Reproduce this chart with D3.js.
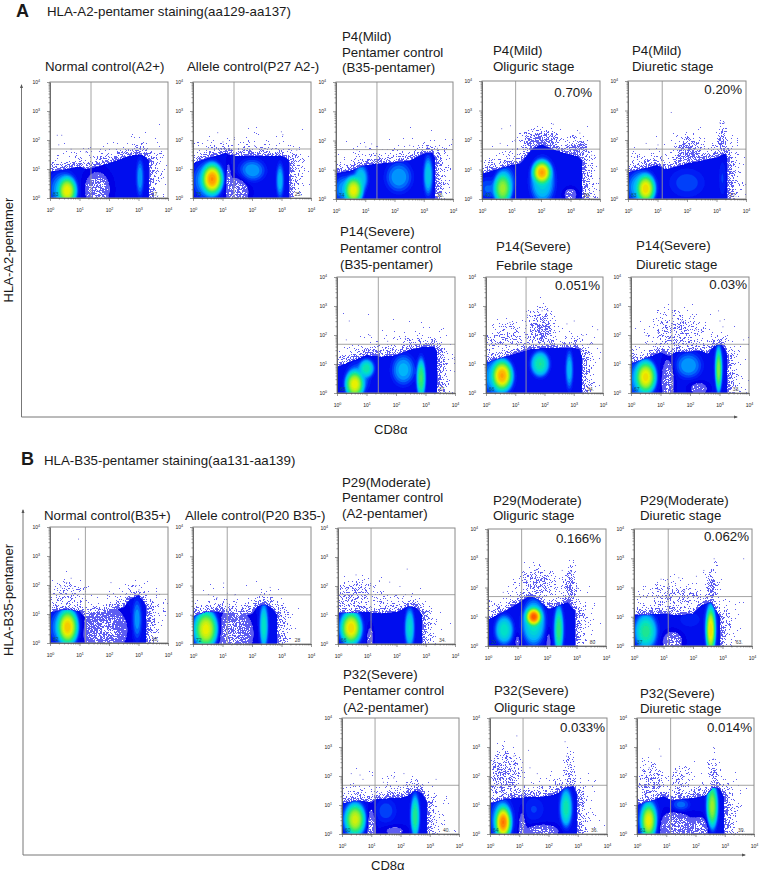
<!DOCTYPE html>
<html>
<head>
<meta charset="utf-8">
<script src="https://cdn.jsdelivr.net/npm/d3@7"></script>
<style>
  body { margin: 0; background: #fff; }
  text { font-family: "Liberation Sans", Arial, sans-serif; fill: #1a1a1a; }
</style>
</head>
<body>
<div id="chart"></div>
<script>

const panelTitles = [
  ['Normal control(A2+)'],
  ['Allele control(P27 A2-)'],
  ['P4(Mild)', 'Pentamer control', '(B35-pentamer)'],
  ['P4(Mild)', 'Oliguric stage'],
  ['P4(Mild)', 'Diuretic stage'],
  ['P14(Severe)', 'Pentamer control', '(B35-pentamer)'],
  ['P14(Severe)', 'Febrile stage'],
  ['P14(Severe)', 'Diuretic stage'],
  ['Normal control(B35+)'],
  ['Allele control(P20 B35-)'],
  ['P29(Moderate)', 'Pentamer control', '(A2-pentamer)'],
  ['P29(Moderate)', 'Oliguric stage'],
  ['P29(Moderate)', 'Diuretic stage'],
  ['P32(Severe)', 'Pentamer control', '(A2-pentamer)'],
  ['P32(Severe)', 'Oliguric stage'],
  ['P32(Severe)', 'Diuretic stage'],
];
const percents = ['', '', '', '0.70%', '0.20%', '', '0.051%', '0.03%', '', '', '', '0.166%', '0.062%', '', '0.033%', '0.014%'];
const lowerLeft = ['83', '75', '74', '40', '83', '63', '66', '67', '82', '72', '66', '20', '37', '60', '64', '61'];
const lowerRight = ['17.', '25.', '26.', '59.', '17.', '37', '34.', '33.', '18.', '28', '34.', '80', '63.', '40.', '36.', '39.'];
const gateX = [1.39, 1.39, 1.40, 1.14, 1.16, 1.40, 1.37, 1.39, 1.20, 1.16, 1.13, 1.14, 1.16, 1.13, 1.13, 1.15];
const gateY = [1.69, 1.69, 1.69, 1.69, 1.69, 1.68, 1.68, 1.68, 1.68, 1.68, 1.70, 1.69, 1.69, 1.68, 1.68, 1.68];

// upper outline of the main population, [x, y]; the last x is where it stops on the right
const edges = [
  [[0, .9], [.6, 1], [1, 1.08], [1.2, 1], [1.4, 1.05], [2, 1.2], [2.7, 1.45], [3, 1.5], [3.2, 1.45], [3.35, 1.3]],
  [[0, 1.2], [.6, 1.4], [1.1, 1.55], [1.25, 1.5], [1.5, 1.45], [2.5, 1.45], [3, 1.45], [3.2, 1.35], [3.27, 1.3]],
  [[0, .87], [.5, .97], [1, 1.15], [1.4, 1.2], [2, 1.25], [2.5, 1.3], [3, 1.55], [3.3, 1.58], [3.38, 1.4]],
  [[0, .85], [1, 1.15], [1.3, 1.2], [1.7, 1.7], [2, 1.85], [2.5, 1.65], [3, 1.5], [3.25, 1.45], [3.4, 1.3]],
  [[0, .9], [1, 1.15], [1.3, 1], [2, 1.2], [3, 1.4], [3.3, 1.55], [3.37, 1.4]],
  [[0, .9], [1, 1.3], [1.5, 1.25], [2, 1.3], [2.5, 1.5], [3, 1.6], [3.3, 1.6], [3.4, 1.4]],
  [[0, 1.05], [.5, 1.2], [1, 1.35], [1.5, 1.5], [2, 1.55], [3, 1.55], [3.2, 1.5], [3.27, 1.3]],
  [[0, 1], [.5, 1.2], [1, 1.4], [1.3, 1.3], [1.5, 1.4], [2.4, 1.45], [2.6, 1.35], [2.8, 1.6], [3.05, 1.7], [3.2, 1.5], [3.27, 1.3]],
  [[0, 1.05], [.5, 1.15], [1, 1.1], [1.2, .9], [2, 1.1], [2.5, 1.25], [2.7, 1.5], [3, 1.65], [3.2, 1.4], [3.27, 1.2]],
  [[0, .95], [.5, 1.1], [1, 1.1], [1.5, .95], [2, 1.05], [2.2, 1.3], [2.5, 1.35], [2.7, 1.2], [2.85, 1]],
  [[0, 1.05], [1, 1.1], [1.5, 1.05], [2, 1.1], [2.4, 1.3], [2.7, 1.25], [2.87, 1]],
  [[0, .9], [.5, 1.15], [1, 1.45], [1.4, 1.7], [1.7, 1.6], [2.05, 1.25], [2.3, 1.35], [2.7, 1.5], [2.95, 1.2]],
  [[0, 1.05], [1, 1.1], [1.5, 1.05], [2, 1.1], [2.3, 1.4], [2.6, 1.5], [2.85, 1.1], [2.92, 1]],
  [[0, 1.05], [.5, 1.15], [1, 1.1], [1.2, 1.2], [2, 1.25], [2.2, 1.3], [2.5, 1.5], [2.75, 1.4], [2.9, 1.1]],
  [[0, 1.05], [.5, 1.2], [1, 1.25], [2, 1.3], [2.3, 1.4], [2.6, 1.6], [2.85, 1.65], [2.97, 1.4]],
  [[0, 1], [.5, 1.15], [.9, 1.3], [1.2, 1.15], [2, 1.25], [2.4, 1.35], [2.6, 1.6], [2.8, 1.6], [2.97, 1.3]],
];

// cell clusters, [x, y, spread x, spread y, density]; density under .1 stays sparse, negative thins out the cover
const clusters = [
  [[.58, .25, .2, .3, .72], [.45, .3, .36, .45, .32], [3.05, .7, .1, .5, .3], [1.6, .3, .28, .4, -.12]],
  [[.65, .65, .22, .33, .85], [.5, .6, .38, .5, .32], [2, .95, .35, .3, .3], [2.95, .6, .1, .45, .33], [1.5, .2, .25, .35, -.12], [1.2, .8, .06, .4, -.06]],
  [[.6, .3, .2, .3, .72], [.85, .7, .18, .35, .36], [.3, .35, .3, .35, .3], [2.15, .75, .35, .4, .3], [3.15, .8, .12, .5, .36]],
  [[2.03, .9, .2, .25, .82], [2.05, .6, .3, .55, .38], [.7, .35, .2, .35, .62], [.8, .6, .25, .4, .3], [.2, .35, .3, .3, .24], [2, 2, .4, .2, .07], [3.2, 1.6, .25, .3, .06], [3, .15, .15, .15, -.09]],
  [[.6, .35, .2, .3, .75], [.45, .4, .36, .42, .34], [2, .55, .5, .4, .22], [3.2, .7, .1, .5, .2], [2.05, 1.5, .3, .35, .06], [3.2, 1.9, .1, .35, .05]],
  [[.6, .3, .2, .3, .72], [1, .85, .18, .22, .45], [.7, .5, .3, .4, .3], [2.25, .8, .3, .4, .32], [2.85, .5, .1, .45, .52], [2.85, .6, .14, .55, .24]],
  [[.55, .6, .22, .33, .82], [.4, .55, .4, .5, .34], [1.85, 1, .22, .3, .46], [2.85, .8, .1, .5, .33], [1.9, 2.2, .25, .4, .05], [.7, 1.9, .5, .3, .015]],
  [[.5, .55, .22, .35, .74], [.35, .5, .35, .5, .32], [1.95, .95, .35, .35, .3], [2.97, .8, .07, .5, .6], [2.97, .9, .12, .6, .3], [1.25, .4, .14, .5, -.12], [2.3, .15, .22, .16, -.08], [1.6, 2.1, .5, .4, .02]],
  [[.6, .55, .22, .38, .78], [.5, .55, .38, .5, .32], [2.95, .8, .13, .55, .3], [1.85, .45, .5, .55, -.13], [.6, 1.6, .4, .3, .015]],
  [[.45, .5, .25, .4, .72], [.4, .5, .35, .5, .32], [2.4, .6, .1, .55, .42], [2.4, .7, .15, .6, .22], [1.4, .35, .42, .55, -.13]],
  [[.45, .55, .22, .35, .75], [.4, .55, .32, .5, .32], [2.45, .55, .12, .5, .4], [.6, 1.7, .5, .3, .02], [1.1, .2, .08, .3, -.08]],
  [[1.55, 1, .17, .2, .92], [1.55, .8, .28, .55, .42], [.55, .55, .22, .35, .42], [2.4, .55, .1, .55, .5], [2.4, .6, .17, .6, .26], [2.8, 2, .12, .4, .04], [1.7, 2.1, .4, .3, .03], [1, .15, .07, .2, -.06], [2.05, .15, .07, .35, -.06]],
  [[.4, .5, .25, .4, .46], [.4, .5, .33, .5, .28], [2.6, .55, .1, .5, .75], [2.6, .65, .16, .65, .33], [1.9, .9, .35, .25, .18], [1.3, .15, .22, .22, -.12], [2.65, 2, .12, .4, .05], [1.3, 1.7, .6, .3, .015]],
  [[.45, .5, .22, .35, .68], [.4, .5, .32, .5, .3], [1.5, .8, .3, .35, .22], [2.5, .6, .1, .5, .48], [2.5, .7, .15, .6, .24], [1, .2, .09, .45, -.12], [1.8, .1, .3, .14, -.06]],
  [[.45, .4, .17, .35, .88], [.4, .5, .3, .55, .32], [1.5, .85, .3, .35, .2], [2.6, .9, .14, .45, .44], [2.6, .9, .2, .6, .24], [1.1, .3, .08, .4, -.08], [1.8, .1, .4, .16, -.1], [.5, 2, .3, .5, .04], [.5, 1.5, .35, .25, .03], [2.7, 2.2, .12, .4, .02]],
  [[.4, .45, .17, .38, .72], [.4, .5, .28, .55, .32], [1.5, 1, .25, .18, .26], [2.57, .95, .12, .5, .62], [2.57, .95, .18, .65, .28], [1.3, .25, .4, .33, -.13], [2.2, .2, .2, .25, -.11], [.5, 1.7, .25, .4, .03], [1.5, 1.8, .2, .35, .015], [2.6, 2, .12, .4, .02]],
];

// single events far away from the clusters
const outliers = [
  [[.23, 2.18], [.38, 2.18], [.28, 1.85], [.7, 1.7], [1.2, 1.6]],
  [[.82, 2.27], [2.98, 2.3], [3.03, 2.2], [3.5, 1.67], [.48, 2], [1.39, 2.1], [2.07, 1.82], [1, 1.95]],
  [[1.2, 1.9], [1, 1.8], [.7, 1.7], [2.5, 1.85], [3.45, 1.75], [3.1, 1.8]],
  [[.65, 2.4], [.95, 2.5], [2.4, 2.55], [.6, 1.9], [1.1, 2], [3.3, 2.25], [3.7, 1.5]],
  [[1.45, 2.95], [.6, 1.9], [1, 1.85], [3.1, 2.6], [3.25, 2.6]],
  [[.4, 2.5], [.3, 1.85], [1.1, 2], [2.3, 1.9], [3.2, 1.8], [1.7, 1.8]],
  [[1.9, 2.85], [2.1, 2.85], [.8, 2.45], [.3, 2], [3, 2.5], [2.75, 2.4], [3.8, 2.2], [3.3, 2], [1.4, 2.7]],
  [[2.95, 2.85], [3, 2.5], [3.15, 2.55], [3.1, 2.3], [1.7, 2.5], [2, 2.65], [.9, 2.1], [.5, 2], [3.8, 1.85], [2.2, 2.2]],
  [[.95, 3.6], [.7, 2.25], [.55, 2.1], [.35, 1.95], [.75, 1.9], [2.05, 2.1], [2.9, 2], [3, 1.85]],
  [[1.02, 2.1], [1.15, 1.75], [1.4, 1.7], [2.6, 1.95], [.8, 1.6]],
  [[2.35, 2.6], [1.4, 2.2], [1.75, 2.15], [.6, 2.4], [.65, 2.1], [.3, 1.9], [2.1, 2]],
  [[1.6, 2.6], [2.8, 2.55], [2.5, 2.6], [3, 2], [1.8, 2.3], [.5, 1.85], [1.3, 2.25]],
  [[3.7, 3], [2.7, 3], [2.35, 2.6], [.9, 2.3], [1.5, 2.35], [.8, 1.95], [2.1, 2.4], [1.7, 1.9]],
  [[.3, 2.1], [.6, 2.05], [.7, 1.9], [1.75, 1.95], [2.1, 2.1], [1.4, 1.8], [3.2, 1.9]],
  [[.9, 3.4], [1.3, 2.9], [2.55, 3.2], [2.6, 2.7], [2.7, 2.4], [2.55, 2.2], [1.35, 2.3], [1.6, 2.1], [.8, 2.7]],
  [[.75, 2.95], [2.6, 3], [2.6, 2.6], [2.7, 2.4], [1.35, 2.2], [1.6, 2], [.4, 2.3], [.8, 2.7]],
];

const tickLabels = ['10', '10', '10', '10', '10'];

// ---- layout, px ----
const width = 760;
const height = 873;

// left, top, right, bottom of each plot
const boxes = [
  [50, 82, 168, 198], [193, 82, 311, 198], [336, 82, 453, 199], [482, 81, 600, 199], [628, 81, 746, 199],
  [337, 277, 455, 393], [486, 277, 603, 393], [631, 277, 749, 393],
  [50, 527, 168, 643], [193, 527, 311, 644], [338, 528, 455, 644], [488, 529, 606, 646], [634, 529, 752, 646],
  [342, 718, 459, 834], [490, 718, 607, 834], [637, 718, 754, 834],
];
// x and baselines of the titles over each plot
const titleSpots = [
  [45, [71]], [187, [71]], [342, [41, 57, 72]], [493, [55, 71]], [632, [55, 71]],
  [340, [236, 253, 269]], [496, [251, 270]], [636, [250, 269]],
  [44, [520]], [185, [520]], [342, [487, 502, 518]], [493, [505, 520]], [640, [505, 520]],
  [343, [679, 695, 712]], [494, [695, 712]], [640, [698, 713]],
];
// right end and baseline of the percentages
const percentSpots = [null, null, null, [592, 97], [742, 94], null, [600, 290], [747, 289], null, null, null, [601, 543], [749, 541], null, [605, 732], [752, 732]];

const svg = d3.select('#chart').append('svg')
  .attr('width', width)
  .attr('height', height)
  .attr('viewBox', `0 0 ${width} ${height}`)
  .style('display', 'block');

svg.append('defs').append('filter').attr('id', 'soft')
  .attr('x', '-5%').attr('y', '-5%').attr('width', '110%').attr('height', '110%')
  .append('feGaussianBlur').attr('stdDeviation', 0.4);

// density colours, blue over cyan and green to red
const SOLID = 0.13;
const densityColor = d3.scaleLinear()
  .domain([SOLID, .2, .3, .4, .5, .6, .7, .8, .9, 1])
  .range(['#0000e6', '#0024f8', '#00b0ff', '#00e0c8', '#30e870', '#90f030', '#e8f000', '#ffb000', '#ff6000', '#e81000'])
  .clamp(true);
const levels = d3.range(SOLID, 1.001, .03);

const COVER = 0.17;
const SPARSE = 0.1;
const FRINGE_EDGE = 0.1;
const FRINGE_WIDTH = 0.11;
const SPREAD = 1.3;
const UNION = 4;

// density of a panel at one spot, built from the outline and the clusters read above
function densityAt(x, y, edge, edgeEnd, list) {
  const top = edge(Math.min(x, edgeEnd));
  const out = x > edgeEnd ? Math.hypot(x - edgeEnd, Math.max(0, y - top)) : y - top;
  const inside = out <= 0;
  const floor = inside ? COVER : FRINGE_EDGE * Math.exp(-out / FRINGE_WIDTH);
  let sum = floor ** UNION;
  let thin = 0;
  list.forEach(([cx, cy, sx, sy, peak]) => {
    if (!inside && Math.abs(peak) >= SPARSE) return;
    const k = peak < SPARSE ? 1 : SPREAD;
    const r2 = ((x - cx) / (sx * k)) ** 2 + ((y - cy) / (sy * k)) ** 2;
    if (peak < 0) thin += -peak * Math.exp(-0.5 * r2);
    else sum += (peak * Math.exp(-0.5 * r2 ** 1.3)) ** UNION;
  });
  return sum ** (1 / UNION) - (inside ? thin : 0);
}

// fixed screen used to break thin density into separate dots, it only decides how a density is drawn
function screenAt(i, j) {
  const s = Math.sin(i * 12.9898 + j * 78.233) * 43758.5453;
  return s - Math.floor(s);
}

function drawPanel(n) {
  const [left, top, right, bottom] = boxes[n];
  const w = right - left;
  const h = bottom - top;
  const x = d3.scaleLinear().domain([0, 4]).range([0, w]);
  const y = d3.scaleLinear().domain([0, 4]).range([h, 0]);
  const g = svg.append('g').attr('transform', `translate(${left},${top})`);

  const edgeData = edges[n];
  const edge = d3.scaleLinear().domain(edgeData.map(d => d[0])).range(edgeData.map(d => d[1])).clamp(true);
  const edgeEnd = edgeData[edgeData.length - 1][0];

  const values = new Float64Array(w * h);
  let dots = '';
  for (let j = 0; j < h; j++) {
    for (let i = 0; i < w; i++) {
      const d = densityAt(x.invert(i + .5), y.invert(j + .5), edge, edgeEnd, clusters[n]);
      values[j * w + i] = d;
      if (d > 0 && d < SOLID && (d / SOLID) ** .65 > screenAt(i + left, j + top)) dots += `M${i},${j}h1v1h-1z`;
    }
  }

  const plot = g.append('g').attr('filter', 'url(#soft)');
  plot.append('path').attr('d', dots).attr('fill', '#3434ee').attr('fill-opacity', .8);

  const bands = d3.contours().size([w, h]).thresholds(levels)(values);
  plot.selectAll('path.band')
    .data(bands)
    .join('path')
    .attr('class', 'band')
    .attr('d', d3.geoPath())
    .attr('fill', d => densityColor(d.value));

  plot.selectAll('rect.event')
    .data(outliers[n])
    .join('rect')
    .attr('class', 'event')
    .attr('x', d => x(d[0]))
    .attr('y', d => y(d[1]))
    .attr('width', 1)
    .attr('height', 1)
    .attr('fill', '#7070e0');

  // quadrant gates and frame
  g.append('line').attr('x1', x(gateX[n])).attr('x2', x(gateX[n])).attr('y1', 0).attr('y2', h)
    .attr('stroke', '#9a9a9a').attr('stroke-width', .9);
  g.append('line').attr('x1', 0).attr('x2', w).attr('y1', y(gateY[n])).attr('y2', y(gateY[n]))
    .attr('stroke', '#9a9a9a').attr('stroke-width', .9);
  g.append('rect').attr('width', w).attr('height', h)
    .attr('fill', 'none').attr('stroke', '#8a8a8a').attr('stroke-width', 1);

  // log axes: ticks for 1..9 in each decade, a label only on the powers of ten
  const logX = d3.scaleLog().domain([1, 1e4]).range([0, w]);
  const logY = d3.scaleLog().domain([1, 1e4]).range([h, 0]);
  const tickValues = [];
  d3.range(0, 4).forEach(k => d3.range(1, 10).forEach(m => tickValues.push(m * 10 ** k)));
  tickValues.push(1e4);
  const isMajor = v => Number.isInteger(Math.log10(v));

  const styleAxis = (a, horizontal) => {
    a.select('.domain').attr('stroke', '#555').attr('stroke-width', .8);
    a.selectAll('.tick line')
      .attr('stroke', '#555')
      .attr('stroke-width', .6)
      .attr(horizontal ? 'y2' : 'x2', d => (horizontal ? 1 : -1) * (isMajor(d) ? 3 : 1.5));
    a.selectAll('.tick text').each(function (d) {
      if (!isMajor(d)) { d3.select(this).remove(); return; }
      const label = d3.select(this)
        .attr('font-size', 5)
        .attr('fill', '#333')
        .style('font-family', '"Liberation Sans", Arial, sans-serif')
        .text(tickLabels[Math.round(Math.log10(d))]);
      label.append('tspan')
        .attr('dy', -2)
        .attr('font-size', 3.6)
        .text(Math.round(Math.log10(d)));
    });
  };

  g.append('g').attr('transform', `translate(0,${h})`)
    .call(d3.axisBottom(logX).tickValues(tickValues).tickSizeOuter(0).tickPadding(4).tickFormat(d => d))
    .call(a => styleAxis(a, true));
  g.append('g')
    .call(d3.axisLeft(logY).tickValues(tickValues).tickSizeOuter(0).tickPadding(4).tickFormat(d => d))
    .call(a => styleAxis(a, false));

  // quadrant percentages
  g.append('text').attr('x', x(.1)).attr('y', h - 2).attr('font-size', 5).style('fill', '#0a5a6a').text(lowerLeft[n]);
  g.append('text').attr('x', x(3.45)).attr('y', h - 2).attr('font-size', 5).style('fill', '#444').text(lowerRight[n]);

  // title lines
  const [tx, baselines] = titleSpots[n];
  panelTitles[n].forEach((line, k) => {
    svg.append('text').attr('x', tx).attr('y', baselines[k]).attr('font-size', 13.3).text(line);
  });

  if (percents[n]) {
    svg.append('text')
      .attr('x', percentSpots[n][0])
      .attr('y', percentSpots[n][1])
      .attr('text-anchor', 'end')
      .attr('font-size', 13.3)
      .text(percents[n]);
  }
}

d3.range(panelTitles.length).forEach(drawPanel);

// section letters, headings, long arrows
const headings = [
  { letter: 'A', lx: 16, ly: 17, text: 'HLA-A2-pentamer staining(aa129-aa137)', tx: 47, ty: 16 },
  { letter: 'B', lx: 21, ly: 465, text: 'HLA-B35-pentamer staining(aa131-aa139)', tx: 44, ty: 465 },
];
headings.forEach(d => {
  svg.append('text').attr('x', d.lx).attr('y', d.ly).attr('font-size', 18).attr('font-weight', 'bold').text(d.letter);
  svg.append('text').attr('x', d.tx).attr('y', d.ty).attr('font-size', 13.3).text(d.text);
});

const longAxes = [
  { x: 21.5, yTop: 85, yBottom: 417, xEnd: 737, label: 'HLA-A2-pentamer', ly: 250, xLabel: 374, xLabelY: 434 },
  { x: 23, yTop: 510, yBottom: 855, xEnd: 745, label: 'HLA-B35-pentamer', ly: 600, xLabel: 371, xLabelY: 870 },
];
longAxes.forEach(d => {
  svg.append('path')
    .attr('d', `M${d.x},${d.yTop}V${d.yBottom}H${d.xEnd}`)
    .attr('fill', 'none').attr('stroke', '#777').attr('stroke-width', 1);
  svg.append('path').attr('d', `M${d.x - 1.5},${d.yTop + 3}L${d.x},${d.yTop - 1}L${d.x + 1.5},${d.yTop + 3}Z`).attr('fill', '#555');
  svg.append('path').attr('d', `M${d.xEnd - 3},${d.yBottom - 1.5}L${d.xEnd + 1},${d.yBottom}L${d.xEnd - 3},${d.yBottom + 1.5}Z`).attr('fill', '#555');
  svg.append('text')
    .attr('transform', `translate(13,${d.ly}) rotate(-90)`)
    .attr('text-anchor', 'middle')
    .attr('font-size', 13)
    .text(d.label);
  svg.append('text').attr('x', d.xLabel).attr('y', d.xLabelY).attr('font-size', 13).text('CD8\u03b1');
});
</script>
</body>
</html>
